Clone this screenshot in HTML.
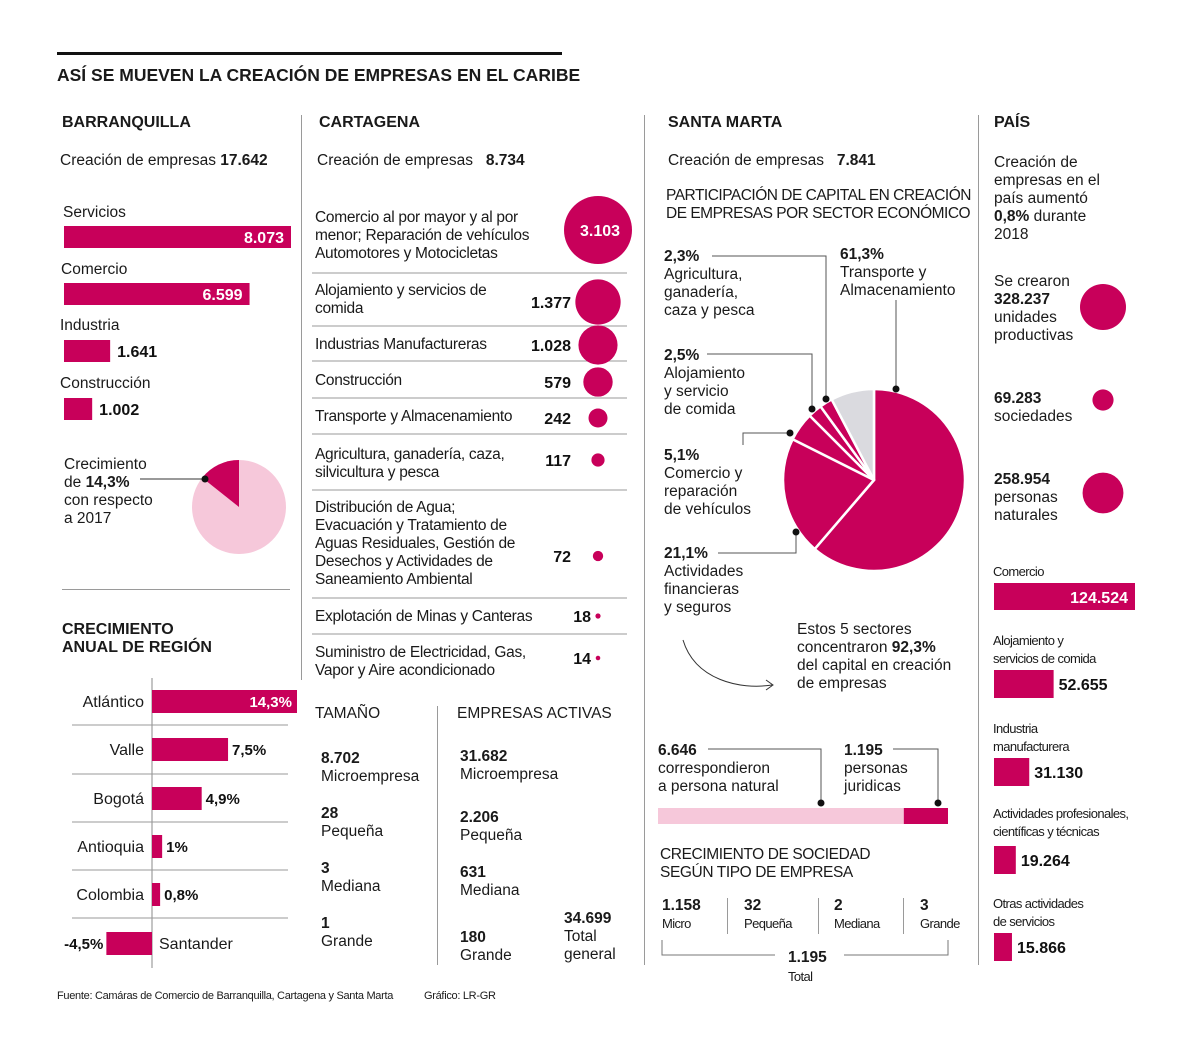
<!DOCTYPE html>
<html><head><meta charset="utf-8">
<style>
body{margin:0;background:#fff;}
#root{position:relative;width:1200px;height:1049px;overflow:hidden;background:#fff;font-family:"Liberation Sans",sans-serif;color:#1a1a1a;font-size:15.5px;}
.a{position:absolute;white-space:nowrap;line-height:18px;}
.b{font-weight:bold;}
.h{font-weight:bold;font-size:16px;}
.c{font-size:13px;letter-spacing:-0.6px;line-height:18px;}
.vl{position:absolute;width:1px;background:#9a9a9a;}
.hl{position:absolute;height:1px;background:#9a9a9a;}
svg{position:absolute;left:0;top:0;}
</style></head>
<body>
<div id="root">
<div style="position:absolute;left:57px;top:52px;width:505px;height:3px;background:#111"></div>
<div class="a b" style="left:57px;top:65px;font-size:17.5px;line-height:20px">ASÍ SE MUEVEN LA CREACIÓN DE EMPRESAS EN EL CARIBE</div>

<div class="vl" style="left:301px;top:115px;height:565px"></div>
<div class="vl" style="left:644px;top:115px;height:850px"></div>
<div class="vl" style="left:978px;top:115px;height:850px"></div>

<!-- Barranquilla -->
<div class="a h" style="left:62px;top:114px">BARRANQUILLA</div>
<div class="a" style="left:60px;top:152px">Creación de empresas <b>17.642</b></div>
<div class="a" style="left:64px;top:456px">Crecimiento<br>de <b>14,3%</b><br>con respecto<br>a 2017</div>
<div class="hl" style="left:62px;top:589px;width:228px"></div>
<div class="a h" style="left:62px;top:621px">CRECIMIENTO<br>ANUAL DE REGIÓN</div>

<!-- Cartagena -->
<div class="a h" style="left:319px;top:114px">CARTAGENA</div>
<div class="a" style="left:317px;top:152px">Creación de empresas &nbsp;&nbsp;<b>8.734</b></div>
<div class="a" style="left:315px;top:705px">TAMAÑO</div>
<div class="a" style="left:457px;top:705px">EMPRESAS ACTIVAS</div>
<div class="vl" style="left:437px;top:706px;height:259px"></div>
<div class="a" style="left:321px;top:750px"><b>8.702</b><br>Microempresa</div>
<div class="a" style="left:321px;top:805px"><b>28</b><br>Pequeña</div>
<div class="a" style="left:321px;top:860px"><b>3</b><br>Mediana</div>
<div class="a" style="left:321px;top:915px"><b>1</b><br>Grande</div>
<div class="a" style="left:460px;top:748px"><b>31.682</b><br>Microempresa</div>
<div class="a" style="left:460px;top:809px"><b>2.206</b><br>Pequeña</div>
<div class="a" style="left:460px;top:864px"><b>631</b><br>Mediana</div>
<div class="a" style="left:460px;top:929px"><b>180</b><br>Grande</div>
<div class="a" style="left:564px;top:910px"><b>34.699</b><br>Total<br>general</div>

<!-- Santa Marta -->
<div class="a h" style="left:668px;top:114px">SANTA MARTA</div>
<div class="a" style="left:668px;top:152px">Creación de empresas &nbsp;&nbsp;<b>7.841</b></div>
<div class="a" style="left:666px;top:187px;letter-spacing:-0.5px">PARTICIPACIÓN DE CAPITAL EN CREACIÓN<br>DE EMPRESAS POR SECTOR ECONÓMICO</div>
<div class="a" style="left:664px;top:248px"><b>2,3%</b><br>Agricultura,<br>ganadería,<br>caza y pesca</div>
<div class="a" style="left:840px;top:246px"><b>61,3%</b><br>Transporte y<br>Almacenamiento</div>
<div class="a" style="left:664px;top:347px"><b>2,5%</b><br>Alojamiento<br>y servicio<br>de comida</div>
<div class="a" style="left:664px;top:447px"><b>5,1%</b><br>Comercio y<br>reparación<br>de vehículos</div>
<div class="a" style="left:664px;top:545px"><b>21,1%</b><br>Actividades<br>financieras<br>y seguros</div>
<div class="a" style="left:797px;top:621px">Estos 5 sectores<br>concentraron <b>92,3%</b><br>del capital en creación<br>de empresas</div>
<div class="a" style="left:658px;top:742px"><b>6.646</b><br>correspondieron<br>a persona natural</div>
<div class="a" style="left:844px;top:742px"><b>1.195</b><br>personas<br>juridicas</div>
<div class="a" style="left:660px;top:846px;letter-spacing:-0.4px">CRECIMIENTO DE SOCIEDAD<br>SEGÚN TIPO DE EMPRESA</div>
<div class="a" style="left:662px;top:897px"><b>1.158</b><br><span class="c">Micro</span></div>
<div class="a" style="left:744px;top:897px"><b>32</b><br><span class="c">Pequeña</span></div>
<div class="a" style="left:834px;top:897px"><b>2</b><br><span class="c">Mediana</span></div>
<div class="a" style="left:920px;top:897px"><b>3</b><br><span class="c">Grande</span></div>
<div class="vl" style="left:727px;top:898px;height:36px"></div>
<div class="vl" style="left:818px;top:898px;height:36px"></div>
<div class="vl" style="left:903px;top:898px;height:36px"></div>
<div class="a b" style="left:788px;top:949px">1.195</div>
<div class="a c" style="left:788px;top:968px">Total</div>

<!-- Pais -->
<div class="a h" style="left:994px;top:114px">PAÍS</div>
<div class="a" style="left:994px;top:154px">Creación de<br>empresas en el<br>país aumentó<br><b>0,8%</b> durante<br>2018</div>
<div class="a" style="left:994px;top:273px">Se crearon<br><b>328.237</b><br>unidades<br>productivas</div>
<div class="a" style="left:994px;top:390px"><b>69.283</b><br>sociedades</div>
<div class="a" style="left:994px;top:471px"><b>258.954</b><br>personas<br>naturales</div>

<div class="a" style="left:57px;top:987px;font-size:11px;letter-spacing:-0.3px">Fuente: Camáras de Comercio de Barranquilla, Cartagena y Santa Marta</div>
<div class="a" style="left:424px;top:987px;font-size:11px;letter-spacing:-0.3px">Gráfico: LR-GR</div>

<svg id="sv" width="1200" height="1049"></svg>
</div>
<script>
const MAG = '#c8005a', PINK = '#f6c8da', GREY = '#dadadf';
const bqCats = ['Servicios','Comercio','Industria','Construcción'];
const bqVals = [8073, 6599, 1641, 1002];
const bqLabels = ['8.073','6.599','1.641','1.002'];
const bqGrowth = [14.3];
const regCats = ['Atlántico','Valle','Bogotá','Antioquia','Colombia','Santander'];
const regVals = [14.3, 7.5, 4.9, 1, 0.8, -4.5];
const regLabels = ['14,3%','7,5%','4,9%','1%','0,8%','-4,5%'];
const ctgCats = ['Comercio al por mayor y al por<br>menor; Reparación de vehículos<br>Automotores y Motocicletas','Alojamiento y servicios de<br>comida','Industrias Manufactureras','Construcción','Transporte y Almacenamiento','Agricultura, ganadería, caza,<br>silvicultura y pesca','Distribución de Agua;<br>Evacuación y Tratamiento de<br>Aguas Residuales, Gestión de<br>Desechos y Actividades de<br>Saneamiento Ambiental','Explotación de Minas y Canteras','Suministro de Electricidad, Gas,<br>Vapor y Aire acondicionado'];
const ctgVals = [3103, 1377, 1028, 579, 242, 117, 72, 18, 14];
const ctgLabels = ['3.103','1.377','1.028','579','242','117','72','18','14'];
const smVals = [61.3, 21.1, 5.1, 2.5, 2.3, 7.7];
const smNames = ['transporte','financieras','comercio','alojamiento','agricultura','otros'];
const tipoVals = [6646, 1195];
const paisCircleVals = [328237, 69283, 258954];
const paisCats = ['Comercio','Alojamiento y<br>servicios de comida','Industria<br>manufacturera','Actividades profesionales,<br>científicas y técnicas','Otras actividades<br>de servicios'];
const paisVals = [124524, 52655, 31130, 19264, 15866];
const paisLabels = ['124.524','52.655','31.130','19.264','15.866'];

const NS = 'http://www.w3.org/2000/svg';
const sv = document.getElementById('sv');
const root = document.getElementById('root');
function sEl(tag, at){const e=document.createElementNS(NS,tag);for(const k in at)e.setAttribute(k,at[k]);sv.appendChild(e);return e;}
function dEl(x,y,html,cls,style){const d=document.createElement('div');d.className='a '+(cls||'');d.style.left=x+'px';d.style.top=y+'px';if(style)d.style.cssText+=style;d.innerHTML=html;root.appendChild(d);return d;}
function pt(cx,cy,r,f){const a=f*2*Math.PI;return [cx+r*Math.sin(a),cy-r*Math.cos(a)];}
function arc(cx,cy,r,f0,f1){const p0=pt(cx,cy,r,f0),p1=pt(cx,cy,r,f1);const lg=(f1-f0)>0.5?1:0;return `M${cx},${cy}L${p0[0]},${p0[1]}A${r},${r} 0 ${lg} 1 ${p1[0]},${p1[1]}Z`;}

// Barranquilla bars
const bqX = 64, bqScale = 227/8073, bqLabelY=[204,261,317,375], bqBarY=[226,283,340,398];
bqCats.forEach((c,i)=>{
  const l=dEl(i===0?63:(i===1?61:60),bqLabelY[i],c);
  
  
  const w=bqVals[i]*bqScale;
  const r=sEl('rect',{x:bqX,y:bqBarY[i],width:w,height:22,fill:MAG});
  
  
  const inside = w>100;
  const t=sEl('text',{x:inside?bqX+w-7:bqX+w+7,y:bqBarY[i]+17,'text-anchor':inside?'end':'start',fill:inside?'#fff':'#111','font-weight':'bold','font-size':'16','font-family':'Liberation Sans, sans-serif'});
  t.textContent=bqLabels[i];
  
  
});
// Barranquilla pie
{const cx=239,cy=507,r=47;
 const bg=sEl('circle',{cx,cy,r,fill:PINK});
 
 
 const f=bqGrowth[0]/100;
 const s=sEl('path',{d:arc(cx,cy,r,-f,0),fill:MAG});
 
 
 sEl('line',{x1:140,y1:479,x2:205,y2:479,stroke:'#333','stroke-width':1});
 sEl('circle',{cx:205,cy:479,r:3.5,fill:'#111'});
}
// Region bars
{const x0=152, sc=145/14.3, rowY=[690,738,787,835,883,932];
 sEl('line',{x1:x0,y1:678,x2:x0,y2:968,stroke:'#888','stroke-width':1});
 [725,774,822,870,918].forEach(y=>sEl('line',{x1:72,y1:y,x2:288,y2:y,stroke:'#999','stroke-width':1}));
 regCats.forEach((c,i)=>{
  const v=regVals[i], w=Math.abs(v)*sc, x=v>=0?x0:x0-w;
  const r=sEl('rect',{x:x,y:rowY[i],width:w,height:23,fill:MAG});
  
  
  const lab=sEl('text',{x:v>=0?144:159,y:rowY[i]+17,'text-anchor':v>=0?'end':'start',fill:'#1a1a1a','font-size':'16','font-family':'Liberation Sans, sans-serif'});
  lab.textContent=c;
  
  
  const inside=w>100;
  const t=sEl('text',{x:v<0?x-3:(inside?x+w-5:x+w+4),y:rowY[i]+17,'text-anchor':(v<0||inside)?'end':'start',fill:inside?'#fff':'#111','font-weight':'bold','font-size':'15','font-family':'Liberation Sans, sans-serif'});
  t.textContent=regLabels[i];
  
  
 });
}
// Cartagena circles
{const rowText=[209,282,336,372,408,446,499,608,644], rowVal=[230,302,345,382,418,460,556,616,658];
 [273,326,361,398,434,490,598,634].forEach(y=>sEl('line',{x1:312,y1:y,x2:627,y2:y,stroke:'#999','stroke-width':1}));
 ctgCats.forEach((c,i)=>{
  const d=dEl(315,rowText[i],c,'','letter-spacing:-0.3px');
  
  
  const r=34*Math.sqrt(ctgVals[i]/ctgVals[0]);
  const ci=sEl('circle',{cx:598,cy:rowVal[i],r:r,fill:MAG});
  
  
  const t=sEl('text',{x:i===0?600:(i>=7?591:571),y:rowVal[i]+6,'text-anchor':i===0?'middle':'end',fill:i===0?'#fff':'#111','font-weight':'bold','font-size':'16','font-family':'Liberation Sans, sans-serif'});
  t.textContent=ctgLabels[i];
  
  
 });
}
// Santa Marta pie
{const cx=874,cy=480,r=91; let acc=0; const tot=smVals.reduce((a,b)=>a+b,0);
 smVals.forEach((v,i)=>{
  const f0=acc/tot, f1=(acc+v)/tot; acc+=v;
  const p=sEl('path',{d:arc(cx,cy,r,f0,f1),fill:i===5?GREY:MAG,stroke:'#fff','stroke-width':2.5,'stroke-linejoin':'round'});
  
  
 });
 const L='#555';
 const lines=[[[712,256],[826,256],[826,399]],[[896,300],[896,389]],[[707,354],[812,354],[812,409]],[[743,445],[743,433],[790,433]],[[718,553],[796,553],[796,532]]];
 lines.forEach(pts=>sEl('polyline',{points:pts.map(p=>p.join(',')).join(' '),fill:'none',stroke:L,'stroke-width':1}));
 [[826,399],[896,389],[812,409],[790,433],[796,532]].forEach(p=>sEl('circle',{cx:p[0],cy:p[1],r:3.5,fill:'#111'}));
 sEl('path',{d:'M683,640 C695,680 740,690 772,685',fill:'none',stroke:'#333','stroke-width':1});
 sEl('path',{d:'M766,680 L773,685 L766,690',fill:'none',stroke:'#333','stroke-width':1});
}
// Tipo persona bar
{const x0=658, W=290, tot=tipoVals[0]+tipoVals[1], w0=W*tipoVals[0]/tot;
 const a=sEl('rect',{x:x0,y:808,width:w0,height:16,fill:PINK});
 
 
 const b=sEl('rect',{x:x0+w0,y:808,width:W-w0,height:16,fill:MAG});
 
 
 sEl('polyline',{points:'708,749 821,749 821,803',fill:'none',stroke:'#555','stroke-width':1});
 sEl('polyline',{points:'893,749 938,749 938,803',fill:'none',stroke:'#555','stroke-width':1});
 sEl('circle',{cx:821,cy:803,r:3.5,fill:'#111'});
 sEl('circle',{cx:938,cy:803,r:3.5,fill:'#111'});
 sEl('polyline',{points:'662,940 662,955 775,955',fill:'none',stroke:'#777','stroke-width':1});
 sEl('polyline',{points:'844,955 948,955 948,940',fill:'none',stroke:'#777','stroke-width':1});
}
// Pais circles
{const cy=[307,400,493];
 paisCircleVals.forEach((v,i)=>{
  const c=sEl('circle',{cx:1103,cy:cy[i],r:23*Math.sqrt(v/paisCircleVals[0]),fill:MAG});
  
  
 });
}
// Pais bars
{const x0=994, sc=141/124524, labY=[563,632,720,805,895], barY=[583,670,758,846,933];
 paisCats.forEach((c,i)=>{
  const d=dEl(993,labY[i],c,'c');
  
  
  const w=paisVals[i]*sc, h=i===0?27:28;
  const r=sEl('rect',{x:x0,y:barY[i],width:w,height:h,fill:MAG});
  
  
  const inside=w>100;
  const t=sEl('text',{x:inside?x0+w-7:x0+w+5,y:barY[i]+20,'text-anchor':inside?'end':'start',fill:inside?'#fff':'#111','font-weight':'bold','font-size':'16','font-family':'Liberation Sans, sans-serif'});
  t.textContent=paisLabels[i];
  
  
 });
}
</script>
</body></html>
